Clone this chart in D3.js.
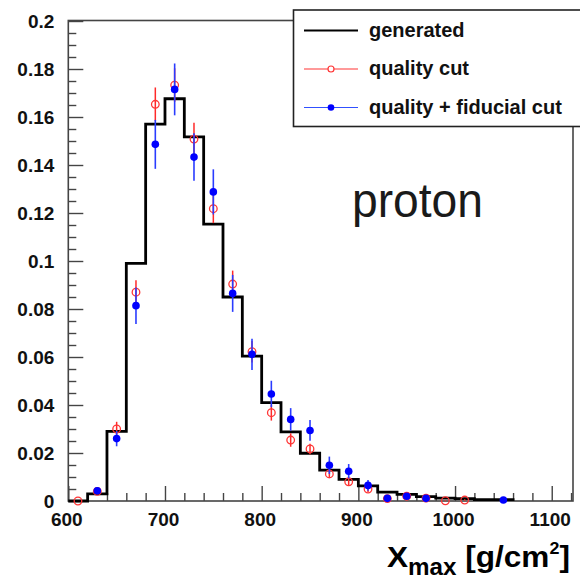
<!DOCTYPE html>
<html><head><meta charset="utf-8">
<script src="https://cdn.jsdelivr.net/npm/d3@7"></script>
<style>html,body{margin:0;padding:0;background:#fff;}svg{display:block;}</style>
</head><body>
<svg id="c" width="580" height="579"></svg>
<script>
// ---- data ----
const binStart = [600,620,640,660,680,700,720,740,760,780,800,820,840,860,880,900,920,940,960,980,1000,1020,1040];
const binWidth = 20;
const generated = [0,0.003,0.029,0.099,0.157,0.1676,0.1517,0.1154,0.085,0.0604,0.041,0.0288,0.0199,0.0129,0.009,0.0063,0.0037,0.0028,0.0018,0.0012,0.001,0.0006,0.0006];

const qualX   = [610,630,650,670,690,710,730,750,770,790,810,830,850,870,890,910,930,950,970,990,1010];
const qualY   = [0,0.004,0.030,0.087,0.1653,0.1733,0.1508,0.1218,0.0904,0.0622,0.0368,0.0254,0.0217,0.0113,0.008,0.005,0.001,0.002,0.0012,0.0001,0.0004];
const qualErr = [0,0.001,0.003,0.005,0.007,0.007,0.0068,0.006,0.0056,0.0045,0.0033,0.0028,0.0022,0.0018,0.0015,0.0012,0.0005,0.0007,0.0005,0.0002,0.0003];

const fidX   = [630,650,670,690,710,730,750,770,790,810,830,850,870,890,910,930,950,970,1050];
const fidY   = [0.0043,0.026,0.0814,0.1486,0.1715,0.1433,0.1288,0.0865,0.0611,0.0446,0.034,0.0294,0.0149,0.0124,0.0065,0.0011,0.002,0.0011,0.0004];
const fidErr = [0.0013,0.0032,0.0076,0.0102,0.0108,0.0099,0.0094,0.0077,0.0065,0.0055,0.0047,0.0043,0.0036,0.003,0.0022,0.0008,0.001,0.0008,0.0004];

const xTicks = [600,700,800,900,1000,1100];
const xTickLabels = ["600","700","800","900","1000","1100"];
const yTicks = [0,0.02,0.04,0.06,0.08,0.1,0.12,0.14,0.16,0.18,0.2];
const yTickLabels = ["0","0.02","0.04","0.06","0.08","0.1","0.12","0.14","0.16","0.18","0.2"];
const legendLabels = ["generated","quality cut","quality + fiducial cut"];
const annotation = "proton";

// ---- layout ----
const L = 68.3, R = 573, T = 21, B = 501;
const svg = d3.select("#c");
const x = d3.scaleLinear().domain([600,1122]).range([L,R]);
const y = d3.scaleLinear().domain([0,0.2]).range([B,T]);
const FONT = "'Liberation Sans', Arial, sans-serif";
const axisCol = "#444";

// minor ticks
const xMinor = d3.range(600,1121,20).filter(v=>v%100!==0);
const yMinor = d3.range(0,0.2001,0.005).filter(v=>Math.abs(v/0.02-Math.round(v/0.02))>1e-6);

const gxMinor = svg.append("g").attr("transform",`translate(0,${B})`)
  .call(d3.axisBottom(x).tickValues(xMinor).tickSizeInner(-8).tickSizeOuter(0).tickFormat(""));
const gyMinor = svg.append("g").attr("transform",`translate(${L},0)`)
  .call(d3.axisLeft(y).tickValues(yMinor).tickSizeInner(-8).tickSizeOuter(0).tickFormat(""));

const gx = svg.append("g").attr("transform",`translate(0,${B})`)
  .call(d3.axisBottom(x).tickValues(xTicks).tickSizeInner(-15).tickSizeOuter(0).tickPadding(12)
    .tickFormat((d,i)=>xTickLabels[i]));
const gy = svg.append("g").attr("transform",`translate(${L},0)`)
  .call(d3.axisLeft(y).tickValues(yTicks).tickSizeInner(-15).tickSizeOuter(0).tickPadding(14)
    .tickFormat((d,i)=>yTickLabels[i]));

[gx,gy,gxMinor,gyMinor].forEach(g=>{
  g.select(".domain").remove();
  g.selectAll(".tick line").attr("stroke",axisCol).attr("stroke-width",1.4);
  g.selectAll("text").attr("font-family",FONT).attr("font-weight","bold").attr("font-size",19).attr("fill","#111");
});
gx.selectAll("text").attr("dx",-2);

// frame
svg.append("rect").attr("x",L).attr("y",T-0.5).attr("width",R-L).attr("height",B-T+0.5)
  .attr("fill","none").attr("stroke",axisCol).attr("stroke-width",1.6);

// histogram (step)
const pts = [];
binStart.forEach((s,i)=>{ pts.push([s,generated[i]]); pts.push([s+binWidth,generated[i]]); });
pts.push([binStart[binStart.length-1]+binWidth,0]);
pts.unshift([binStart[0],0]);
svg.append("path").attr("d",d3.line().x(d=>x(d[0])).y(d=>y(d[1]))(pts))
  .attr("fill","none").attr("stroke","#000").attr("stroke-width",2.8).attr("stroke-linejoin","miter");

// quality cut (red open)
const gq = svg.append("g");
qualX.forEach((cx,i)=>{
  gq.append("line").attr("x1",x(cx)).attr("x2",x(cx)).attr("y1",y(qualY[i]-qualErr[i])).attr("y2",y(qualY[i]+qualErr[i]))
    .attr("stroke","#ff2a2a").attr("stroke-width",1.5);
  gq.append("circle").attr("cx",x(cx)).attr("cy",y(qualY[i])).attr("r",3.8)
    .attr("fill","none").attr("stroke","#ff3535").attr("stroke-width",1.3);
});
// quality + fiducial (blue filled)
const gf = svg.append("g");
fidX.forEach((cx,i)=>{
  gf.append("line").attr("x1",x(cx)).attr("x2",x(cx)).attr("y1",y(fidY[i]-fidErr[i])).attr("y2",y(fidY[i]+fidErr[i]))
    .attr("stroke","#2a3cff").attr("stroke-width",1.6);
  gf.append("circle").attr("cx",x(cx)).attr("cy",y(fidY[i])).attr("r",3.8).attr("fill","#0000ff");
});

// legend
const lg = svg.append("g");
lg.append("rect").attr("x",293.5).attr("y",10).attr("width",300).attr("height",116.5)
  .attr("fill","#fff").attr("stroke","#222").attr("stroke-width",1.6);
const ly = [30.5,69,107.5];
const lcol = ["#000","#ff3535","#3050ff"];
legendLabels.forEach((t,i)=>{
  lg.append("line").attr("x1",304).attr("x2",358).attr("y1",ly[i]).attr("y2",ly[i])
    .attr("stroke",lcol[i]).attr("stroke-width",i===0?2.2:1.2);
  if(i===1) lg.append("circle").attr("cx",331).attr("cy",ly[i]).attr("r",3).attr("fill","#fff").attr("stroke","#ff3535").attr("stroke-width",1.2);
  if(i===2) lg.append("circle").attr("cx",331).attr("cy",ly[i]).attr("r",3.3).attr("fill","#0000ff");
  lg.append("text").attr("x",369).attr("y",ly[i]+6).text(t)
    .attr("font-family",FONT).attr("font-weight","bold").attr("font-size",20).attr("fill","#111");
});

// annotation
svg.append("text").attr("x",352).attr("y",217).text(annotation)
  .attr("font-family",FONT).attr("font-size",48).attr("fill","#1a1a1a")
  .attr("textLength",131).attr("lengthAdjust","spacingAndGlyphs");

// x-axis title
const tg = svg.append("g");
const tt = tg.append("text").attr("x",0).attr("y",0).attr("font-family",FONT).attr("font-weight","bold").attr("fill","#000").attr("font-size",30);
tt.append("tspan").text("X");
tt.append("tspan").attr("font-size",23).attr("dy",8).text("max");
tt.append("tspan").attr("dy",-8).text(" [g/cm");
tt.append("tspan").attr("font-size",17).attr("dy",-13).text("2");
tt.append("tspan").attr("dy",13).text("]");
const bb = tt.node().getBBox();
const sx = (570-387)/bb.width;
tg.attr("transform",`translate(${387 - bb.x*sx},567) scale(${sx},1)`);
</script>
</body></html>
